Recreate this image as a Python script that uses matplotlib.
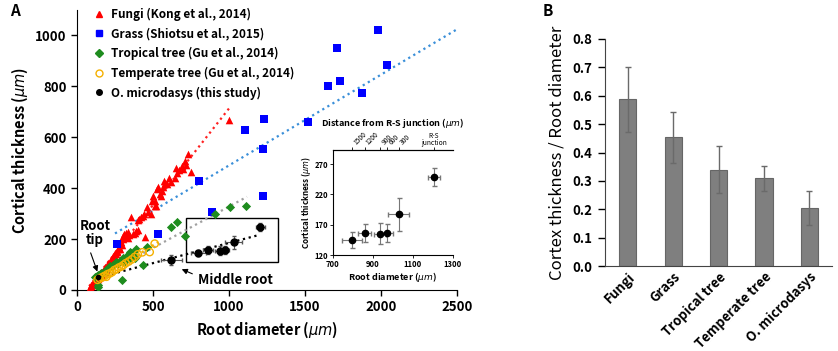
"""Root cortex thickness vs diameter (A) and cortex/diameter ratio (B)"""

import matplotlib
matplotlib.use("Agg")
import matplotlib.pyplot as plt
import matplotlib.patches as mpatches

plt.rcParams["font.family"] = ["Noto Sans CJK KR", "DejaVu Sans"]
plt.rcParams["mathtext.fontset"] = "dejavusans"

# ---- panel A data ----
fungi_x = [84, 90, 95, 100, 105, 110, 116, 120, 125, 130, 135, 140, 149, 150, 155, 160,
           165, 170, 175, 180, 185, 193, 195, 200, 205, 210, 215, 220, 225, 230, 235, 240,
           248, 250, 255, 260, 265, 270, 275, 281, 285, 292, 295, 300, 303, 310, 320, 325,
           336, 336, 345, 357, 368, 380, 390, 401, 401, 410, 420, 434, 440, 447, 458, 465,
           485, 491, 502, 513, 513, 522, 524, 533, 546, 555, 557, 568, 572, 580, 595, 605,
           616, 645, 651, 656, 670, 689, 700, 711, 720, 732, 750, 1002]
fungi_y = [13, 20, 15, 25, 20, 30, 39, 28, 40, 35, 48, 45, 58, 50, 65, 60,
           70, 62, 80, 75, 90, 78, 95, 88, 105, 98, 104, 115, 110, 125, 118, 135,
           130, 145, 140, 155, 150, 160, 170, 162, 180, 188, 175, 200, 214, 220, 210, 225,
           227, 205, 215, 286, 221, 225, 230, 234, 273, 280, 285, 292, 300, 208, 325, 305,
           299, 351, 370, 351, 331, 331, 396, 403, 377, 370, 390, 405, 428, 420, 415, 440,
           425, 441, 480, 461, 470, 487, 474, 506, 490, 535, 464, 669]

grass_x = [263, 533, 803, 888, 1105, 1224, 1230, 1224, 1520, 1650, 1730, 1710, 1875, 1980, 2040]
grass_y = [179, 218, 428, 308, 627, 370, 670, 553, 658, 803, 820, 950, 775, 1020, 885]

tropical_x = [138, 140, 120, 130, 140, 150, 160, 175, 190, 205, 220, 240, 255, 270, 285, 300,
              314, 325, 335, 347, 355, 365, 340, 310, 380, 390, 294, 436, 458, 616, 656, 711,
              908, 1008, 1110]
tropical_y = [13, 19, 50, 55, 60, 55, 65, 70, 80, 85, 95, 100, 110, 105, 115, 125,
              123, 130, 138, 149, 145, 140, 120, 108, 125, 162, 39, 100, 169, 247, 268, 214,
              298, 327, 329]

temperate_x = [135, 150, 165, 180, 193, 200, 215, 230, 245, 260, 275, 290, 305, 320, 340, 360,
               380, 400, 430, 478, 511]
temperate_y = [40, 45, 50, 55, 52, 62, 65, 70, 78, 82, 88, 92, 98, 105, 112, 120,
               130, 140, 148, 149, 182]

# root tip first, then middle root, then the six boxed points
omic_x = [140, 620, 797, 860, 938, 973, 1030, 1205]
omic_y = [52, 118, 145, 156, 155, 156, 187, 248]
omic_xerr = [0, 70, 50, 33, 30, 30, 54, 30]
omic_yerr = [0, 18, 13, 15, 17, 15, 27, 15]

# dotted trend lines, end points
fungi_fit_x = [80, 1000]
fungi_fit_y = [15, 713]
grass_fit_x = [250, 2500]
grass_fit_y = [222, 1024]
tropical_fit_x = [130, 1118]
tropical_fit_y = [45, 366]
temperate_fit_x = [130, 533]
temperate_fit_y = [38, 188]
omic_fit_x = [118, 1184]
omic_fit_y = [45, 214]

# inset top axis: distance from R-S junction
distance_labels = ["1500", "1200", "900", "600", "300", "R-S\njunction"]

# ---- panel B data ----
groups = ["Fungi", "Grass", "Tropical tree", "Temperate tree", "O. microdasys"]
ratio = [0.587, 0.453, 0.340, 0.309, 0.203]
ratio_err = [0.115, 0.089, 0.084, 0.045, 0.060]


def plot_panel_a(fig):
    ax = fig.add_axes([0.0919, 0.1738, 0.4535, 0.798])

    ax.plot(fungi_fit_x, fungi_fit_y, ":", color="#ff2020", lw=1.6)
    ax.plot(grass_fit_x, grass_fit_y, ":", color="#3a8fd9", lw=1.6)
    ax.plot(tropical_fit_x, tropical_fit_y, ":", color="#a0a0a0", lw=1.6)
    ax.plot(temperate_fit_x, temperate_fit_y, ":", color="#f5b000", lw=1.6)
    ax.plot(omic_fit_x, omic_fit_y, ":", color="black", lw=1.6)

    ax.scatter(fungi_x, fungi_y, marker="^", s=30, color="#ff0000", lw=0, zorder=3)
    ax.scatter(grass_x, grass_y, marker="s", s=30, color="#0000ff", lw=0, zorder=3)
    ax.scatter(tropical_x, tropical_y, marker="D", s=22, color="#1e8c1e", lw=0, zorder=3)
    ax.scatter(temperate_x, temperate_y, marker="o", s=28, facecolor="none",
               edgecolor="#f5b000", lw=1.0, zorder=3)
    # root tip: small dot
    ax.plot(omic_x[0], omic_y[0], "o", ms=3, color="black", zorder=4)
    ax.errorbar(omic_x[1:], omic_y[1:], xerr=omic_xerr[1:], yerr=omic_yerr[1:], fmt="o",
                ms=5, color="black", ecolor="#555555", elinewidth=0.8, capsize=1.5, zorder=4)

    ax.add_patch(mpatches.Rectangle((720, 110), 600, 172, fill=False, ec="black", lw=1.0))

    ax.annotate("Root\ntip", xy=(140, 62), xytext=(118, 222), ha="center", va="center",
                fontsize=9.5, fontweight="bold", linespacing=1.0,
                arrowprops=dict(arrowstyle="-|>", color="black", lw=0.8,
                                mutation_scale=8, relpos=(0.3, 0.0)))
    ax.annotate("Middle root", xy=(672, 86), xytext=(1040, 38), ha="center", va="center",
                fontsize=9.5, fontweight="bold",
                arrowprops=dict(arrowstyle="-|>", color="black", lw=0.8,
                                mutation_scale=8, relpos=(0.0, 0.8)))

    ax.set_xlim(0, 2500)
    ax.set_ylim(0, 1100)
    ax.set_xticks([0, 500, 1000, 1500, 2000, 2500])
    ax.set_yticks([0, 200, 400, 600, 800, 1000])
    ax.spines["top"].set_visible(False)
    ax.spines["right"].set_visible(False)
    ax.tick_params(labelsize=9.5, width=1, length=4, direction="out")
    for lab in ax.get_xticklabels() + ax.get_yticklabels():
        lab.set_fontweight("bold")
    ax.set_xlabel(r"Root diameter ($\mu m$)", fontsize=10.5, fontweight="bold")
    ax.set_ylabel(r"Cortical thickness ($\mu m$)", fontsize=10.5, fontweight="bold")

    handles = [
        plt.Line2D([], [], ls="", marker="^", ms=5, color="#ff0000"),
        plt.Line2D([], [], ls="", marker="s", ms=5, color="#0000ff"),
        plt.Line2D([], [], ls="", marker="D", ms=4.5, color="#1e8c1e"),
        plt.Line2D([], [], ls="", marker="o", ms=5, mfc="none", mec="#f5b000"),
        plt.Line2D([], [], ls="", marker="o", ms=4, color="black"),
    ]
    texts = ["Fungi (Kong et al., 2014)", "Grass (Shiotsu et al., 2015)",
             "Tropical tree (Gu et al., 2014)", "Temperate tree (Gu et al., 2014)",
             "O. microdasys (this study)"]
    ax.legend(handles, texts, loc="upper left", bbox_to_anchor=(0.015, 1.045),
              frameon=False, prop=dict(size=8.5, weight="bold"),
              handlelength=1.0, handletextpad=0.5, labelspacing=0.55)

    fig.text(0.012, 0.955, "A", fontsize=11, fontweight="bold")

    # inset
    ins = fig.add_axes([0.397, 0.2735, 0.1432, 0.299])
    ins.errorbar(omic_x[2:], omic_y[2:], xerr=omic_xerr[2:], yerr=omic_yerr[2:], fmt="o",
                 ms=4.5, color="black", ecolor="#777777", elinewidth=0.8, capsize=1.8)
    ins.set_xlim(700, 1300)
    ins.set_ylim(120, 293)
    ins.set_xticks([700, 900, 1100, 1300])
    ins.set_yticks([120, 170, 220, 270])
    ins.spines["right"].set_visible(False)
    ins.tick_params(labelsize=5.5, length=2, width=0.6, pad=1.5)
    for lab in ins.get_xticklabels() + ins.get_yticklabels():
        lab.set_fontweight("bold")
    ins.set_xlabel(r"Root diameter ($\mu m$)", fontsize=6.5, fontweight="bold", labelpad=1)
    ins.set_ylabel(r"Cortical thickness ($\mu m$)", fontsize=5.8, fontweight="bold", labelpad=1)

    top = ins.secondary_xaxis("top")
    top.set_xticks(omic_x[2:])
    top.set_xticklabels(distance_labels)
    top.tick_params(labelsize=4.8, length=2, width=0.6, pad=0.5)
    for lab in top.get_xticklabels()[:-1]:
        lab.set_rotation(45)
        lab.set_ha("left")
        lab.set_va("bottom")
    top.get_xticklabels()[-1].set_linespacing(0.8)
    top.set_xlabel(r"Distance from R-S junction ($\mu m$)", fontsize=6.5, fontweight="bold",
                   labelpad=3)


def plot_panel_b(fig):
    ax = fig.add_axes([0.722, 0.242, 0.271, 0.647])
    pos = list(range(len(groups)))
    ax.bar(pos, ratio, width=0.38, color="#7f7f7f", edgecolor="#666666", lw=0.8)
    ax.errorbar(pos, ratio, yerr=ratio_err, fmt="none", ecolor="#6a6a6a",
                elinewidth=1.0, capsize=2.5)
    ax.set_xlim(-0.5, 4.5)
    ax.set_ylim(0, 0.8)
    ax.set_yticks([0, 0.1, 0.2, 0.3, 0.4, 0.5, 0.6, 0.7, 0.8])
    ax.set_yticklabels(["%.1f" % v for v in ax.get_yticks()])
    ax.set_xticks(pos)
    ax.set_xticklabels(groups, rotation=45, ha="right", rotation_mode="anchor")
    ax.spines["top"].set_visible(False)
    ax.spines["right"].set_visible(False)
    ax.spines["left"].set_color("#444444")
    ax.spines["bottom"].set_color("#444444")
    ax.tick_params(axis="y", labelsize=9.5, length=5, width=1, pad=4)
    ax.tick_params(axis="x", labelsize=9.5, length=0, pad=3)
    for lab in ax.get_xticklabels() + ax.get_yticklabels():
        lab.set_fontweight("bold")
    ax.set_ylabel("Cortex thickness / Root diameter", fontsize=12, labelpad=5)
    fig.text(0.648, 0.955, "B", fontsize=11, fontweight="bold")


def main():
    fig = plt.figure(figsize=(8.38, 3.51), dpi=100)
    plot_panel_a(fig)
    plot_panel_b(fig)
    fig.savefig("out.png", dpi=100)
    plt.close(fig)


if __name__ == "__main__":
    main()
